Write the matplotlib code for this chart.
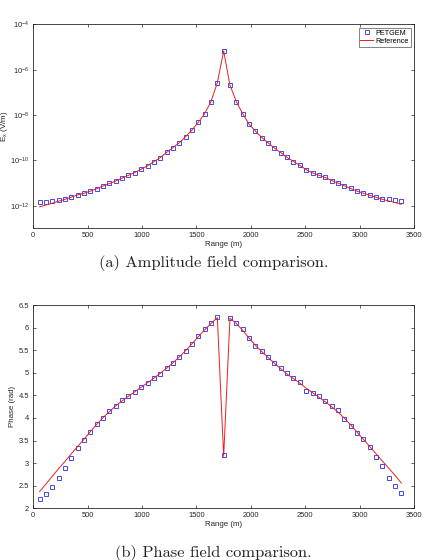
import numpy as np
import matplotlib
matplotlib.use("Agg")
import matplotlib.pyplot as plt
from matplotlib.ticker import FixedLocator, NullLocator

plt.rcParams['font.family'] = ['Liberation Sans', 'DejaVu Sans']
plt.rcParams['mathtext.fontset'] = 'custom'
plt.rcParams['mathtext.rm'] = 'Liberation Sans'
plt.rcParams['mathtext.it'] = 'Liberation Sans'

# receiver positions (m)
rx = [58, 117, 175, 233, 292, 350, 408, 467, 525, 583, 642, 700, 758, 817,
      875, 933, 992, 1050, 1108, 1167, 1225, 1283, 1342, 1400, 1458, 1517,
      1575, 1633, 1692, 1750, 1808, 1867, 1925, 1983, 2042, 2100, 2158, 2217,
      2275, 2333, 2392, 2450, 2508, 2567, 2625, 2683, 2742, 2800, 2858, 2917,
      2975, 3033, 3092, 3150, 3208, 3267, 3325, 3383]

# amplitude |Ex| (V/m)
amp_petgem = [1.45e-12, 1.48e-12, 1.59e-12, 1.78e-12, 1.95e-12, 2.40e-12, 3.02e-12,
              3.47e-12, 4.37e-12, 5.62e-12, 7.41e-12, 9.55e-12, 1.23e-11, 1.66e-11,
              2.19e-11, 2.82e-11, 4.17e-11, 5.75e-11, 8.71e-11, 1.32e-10, 2.24e-10,
              3.63e-10, 6.03e-10, 1.10e-9, 2.19e-9, 4.79e-9, 1.15e-8, 3.89e-8,
              2.69e-7, 6.76e-6, 2.09e-7, 3.89e-8, 1.15e-8, 3.98e-9, 1.95e-9, 1.02e-9,
              6.03e-10, 3.47e-10, 2.19e-10, 1.35e-10, 8.91e-11, 6.03e-11, 3.72e-11,
              2.75e-11, 2.24e-11, 1.78e-11, 1.26e-11, 1.02e-11, 7.59e-12, 5.75e-12,
              4.27e-12, 3.63e-12, 2.95e-12, 2.34e-12, 2.04e-12, 1.91e-12, 1.70e-12,
              1.55e-12]
amp_ref = [8.9e-13, 1.07e-12, 1.29e-12, 1.58e-12, 1.91e-12, 2.40e-12, 3.00e-12,
           3.55e-12, 4.37e-12, 5.62e-12, 7.41e-12, 9.55e-12, 1.23e-11, 1.66e-11,
           2.19e-11, 2.88e-11, 4.10e-11, 5.75e-11, 8.71e-11, 1.32e-10, 2.24e-10,
           3.63e-10, 6.03e-10, 1.10e-9, 2.19e-9, 4.79e-9, 1.15e-8, 3.89e-8,
           2.69e-7, 6.76e-6, 2.09e-7, 3.89e-8, 1.15e-8, 3.98e-9, 1.95e-9, 1.02e-9,
           6.03e-10, 3.47e-10, 2.19e-10, 1.35e-10, 8.91e-11, 6.03e-11, 3.90e-11,
           2.80e-11, 2.20e-11, 1.75e-11, 1.30e-11, 1.00e-11, 7.59e-12, 5.75e-12,
           4.40e-12, 3.55e-12, 2.90e-12, 2.34e-12, 1.91e-12, 1.62e-12, 1.38e-12,
           1.15e-12]

# phase (rad)
ph_petgem = [2.21, 2.31, 2.465, 2.66, 2.885, 3.11, 3.335, 3.51, 3.70, 3.87, 4.00,
             4.15, 4.27, 4.40, 4.49, 4.57, 4.685, 4.77, 4.885, 4.98, 5.10, 5.22,
             5.34, 5.49, 5.64, 5.81, 5.96, 6.10, 6.23, 3.17, 6.22, 6.10, 5.96, 5.76,
             5.60, 5.475, 5.35, 5.22, 5.11, 5.00, 4.89, 4.795, 4.60, 4.55, 4.49,
             4.38, 4.265, 4.18, 3.985, 3.82, 3.675, 3.53, 3.35, 3.13, 2.94, 2.67,
             2.49, 2.33]
ph_ref = [2.37, 2.54, 2.71, 2.88, 3.04, 3.21, 3.37, 3.53, 3.70, 3.86, 4.01, 4.14,
          4.27, 4.38, 4.48, 4.58, 4.68, 4.78, 4.88, 4.99, 5.10, 5.22, 5.35, 5.49,
          5.64, 5.80, 5.95, 6.09, 6.22, 3.15, 6.21, 6.09, 5.94, 5.77, 5.61, 5.47,
          5.34, 5.21, 5.09, 4.97, 4.87, 4.77, 4.66, 4.56, 4.46, 4.36, 4.25, 4.13,
          4.00, 3.85, 3.69, 3.53, 3.37, 3.21, 3.05, 2.89, 2.73, 2.56]

axcol = '#262626'
sq_col = '#2a2aee'
fs = 5.4

fig = plt.figure(figsize=(4.27, 5.6), dpi=100)
ax1 = fig.add_axes([0.078, 0.5923, 0.8916, 0.364])
ax2 = fig.add_axes([0.078, 0.0923, 0.8916, 0.363])


def style(ax):
    for s in ax.spines.values():
        s.set_color(axcol)
        s.set_linewidth(0.6)
    ax.tick_params(which='both', direction='in', top=True, right=True,
                   length=2.5, width=0.5, color=axcol, labelcolor=axcol,
                   labelsize=fs, pad=3)
    ax.set_xlim(0, 3500)
    ax.set_xticks(range(0, 3501, 500))
    ax.set_xlabel('Range (m)', fontsize=fs + 0.3, color=axcol, labelpad=1)


# (a) amplitude
ax1.plot(rx, amp_petgem, 's', ms=2.8, mfc='none', mec=sq_col, mew=0.6, label='PETGEM')
ax1.plot(rx, amp_ref, '-', color='#e8201c', lw=0.7, label='Reference')
ax1.set_yscale('log')
ax1.set_ylim(1e-13, 1e-4)
ax1.yaxis.set_major_locator(FixedLocator([1e-12, 1e-10, 1e-8, 1e-6, 1e-4]))
ax1.yaxis.set_minor_locator(NullLocator())
style(ax1)
fig.text(0.011, 0.775, 'E$_x$ (V/m)', rotation=90, ha='center', va='center',
         fontsize=fs + 0.3, color=axcol)
leg = ax1.legend(loc='upper right', fontsize=fs - 0.2, frameon=True, fancybox=False,
                 handlelength=1.8, handletextpad=0.3, borderpad=0.25,
                 labelspacing=0.15, borderaxespad=0.45)
leg.get_frame().set_edgecolor(axcol)
leg.get_frame().set_linewidth(0.5)

# (b) phase
ax2.plot(rx, ph_petgem, 's', ms=2.8, mfc='none', mec=sq_col, mew=0.6)
ax2.plot(rx, ph_ref, '-', color='#e8201c', lw=0.7)
ax2.set_ylim(2, 6.5)
ax2.set_yticks(np.arange(2, 6.51, 0.5))
ax2.set_yticklabels(['2', '2.5', '3', '3.5', '4', '4.5', '5', '5.5', '6', '6.5'])
style(ax2)
ax2.set_ylabel('Phase (rad)', fontsize=fs + 0.3, color=axcol, labelpad=2)

# captions
fig.text(0.5, 1 - 263 / 560, '(a) Amplitude field comparison.', ha='center',
         va='center', fontsize=11.8, family=['cmr10', 'DejaVu Serif'], color='#222222')
fig.text(0.5, 1 - 553 / 560, '(b) Phase field comparison.', ha='center',
         va='center', fontsize=11.8, family=['cmr10', 'DejaVu Serif'], color='#222222')

fig.savefig('out.png', dpi=100)
